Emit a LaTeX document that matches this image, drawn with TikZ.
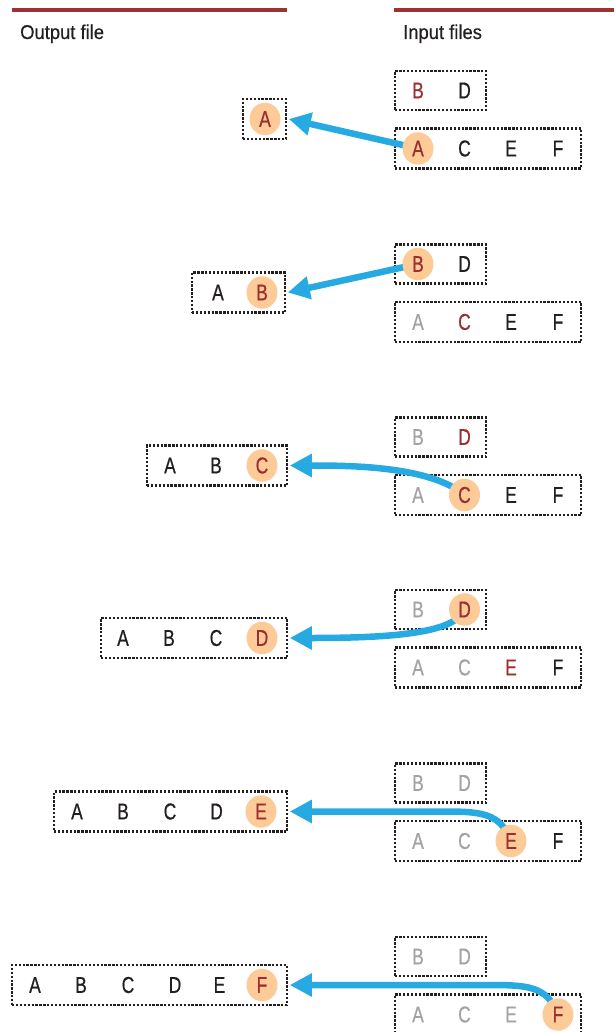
\documentclass[tikz,border=0pt]{standalone}
\usepackage{fontspec}
\setmainfont{Liberation Sans}
\newfontfamily\hdrfont{Liberation Sans}[FakeStretch=0.92, FakeBold=0.4]
\newfontfamily\boxfont{Liberation Sans}[FakeStretch=0.76, FakeBold=0.6]
\usetikzlibrary{arrows.meta,shapes.geometric}
\pgfdeclarelayer{back}
\pgfdeclarelayer{mid}
\pgfsetlayers{back,mid,main}
\definecolor{hdr}{HTML}{9B3335}
\definecolor{redt}{HTML}{9A2E32}
\definecolor{peach}{HTML}{FDCB97}
\definecolor{grayt}{HTML}{A3A3A3}
\definecolor{blk}{HTML}{231F20}
\definecolor{arrblue}{HTML}{27AAE1}
\begin{document}
\begin{tikzpicture}[x=1pt,y=-1pt,
  dbox/.style={draw=blk, line width=2.5pt, dash pattern=on 2.3pt off 1.6pt, inner sep=0pt, minimum height=40pt},
  lt/.style={inner sep=0pt, font=\boxfont\fontsize{23}{23}\selectfont, text=blk},
  gl/.style={lt, text=grayt},
  rl/.style={lt, text=redt},
  sel/.style={lt, text=redt, ellipse, fill=peach, minimum width=31pt, minimum height=32.5pt},
  flow/.style={draw=arrblue, line width=6.5pt, -{Triangle[length=22pt,width=22pt]}},
  hdrtext/.style={anchor=base west, inner sep=0pt, font=\hdrfont\fontsize{20}{20}\selectfont, text=blk},
  hdrline/.style={draw=hdr, line width=4pt}
]
\useasboundingbox (0,0) rectangle (614,1032);

% headers
\draw[hdrline] (12,10) -- (287,10);
\draw[hdrline] (394,10) -- (614,10);
\node[hdrtext] (hout) at (20,39) {Output file};
\node[hdrtext] (hin) at (403,39) {Input files};

% ---------- boxes ----------
\begin{pgfonlayer}{back}
% panel 1
\node[dbox, minimum width=91pt, minimum height=39pt] (b11) at (440.5,90.5) {};
\node[dbox, minimum width=186pt] (b12) at (488,148.5) {};
\node[dbox, minimum width=43pt] (o1) at (264.5,119) {};
% panel 2
\node[dbox, minimum width=91pt, minimum height=39pt] (b21) at (440.5,264) {};
\node[dbox, minimum width=186pt] (b22) at (488,322) {};
\node[dbox, minimum width=93pt] (o2) at (238.5,292.5) {};
% panel 3
\node[dbox, minimum width=91pt, minimum height=39pt] (b31) at (440.5,437) {};
\node[dbox, minimum width=186pt] (b32) at (488,495) {};
\node[dbox, minimum width=140pt] (o3) at (217,465.5) {};
% panel 4
\node[dbox, minimum width=91pt, minimum height=39pt] (b41) at (440.5,609.5) {};
\node[dbox, minimum width=186pt] (b42) at (488,667.5) {};
\node[dbox, minimum width=186pt] (o4) at (194,638) {};
% panel 5
\node[dbox, minimum width=91pt, minimum height=39pt] (b51) at (440.5,783) {};
\node[dbox, minimum width=186pt] (b52) at (488,841) {};
\node[dbox, minimum width=233pt] (o5) at (170.5,811.5) {};
% panel 6
\node[dbox, minimum width=91pt, minimum height=39pt] (b61) at (440.5,956.5) {};
\node[dbox, minimum width=186pt] (b62) at (488,1014.5) {};
\node[dbox, minimum width=275pt] (o6) at (149.5,985) {};
\end{pgfonlayer}

% ---------- letters ----------
% panel 1
\node[rl] (p1B) at (418,90.5) {B};
\node[lt] (p1D) at (464.5,90.5) {D};
\node[sel] (s1) at (418,148.5) {A};
\node[lt] (p1C) at (464.5,148.5) {C};
\node[lt] (p1E) at (511,148.5) {E};
\node[lt] (p1F) at (558,148.5) {F};
\node[sel] (t1A) at (265,119) {A};
% panel 2
\node[sel] (s2) at (418,264) {B};
\node[lt] (p2D) at (464.5,264) {D};
\node[gl] (p2A) at (418,322) {A};
\node[rl] (p2C) at (464.5,322) {C};
\node[lt] (p2E) at (511,322) {E};
\node[lt] (p2F) at (558,322) {F};
\node[lt] (t2A) at (218,292.5) {A};
\node[sel] (t2B) at (262,292.5) {B};
% panel 3
\node[gl] (p3B) at (418,437) {B};
\node[rl] (p3D) at (464.5,437) {D};
\node[gl] (p3A) at (418,495) {A};
\node[sel] (s3) at (464.5,495) {C};
\node[lt] (p3E) at (511,495) {E};
\node[lt] (p3F) at (558,495) {F};
\node[lt] (t3A) at (170,465.5) {A};
\node[lt] (t3B) at (216,465.5) {B};
\node[sel] (t3C) at (262,465.5) {C};
% panel 4
\node[gl] (p4B) at (418,609.5) {B};
\node[sel] (s4) at (464.5,609.5) {D};
\node[gl] (p4A) at (418,667.5) {A};
\node[gl] (p4C) at (464.5,667.5) {C};
\node[rl] (p4E) at (511,667.5) {E};
\node[lt] (p4F) at (558,667.5) {F};
\node[lt] (t4A) at (123,638) {A};
\node[lt] (t4B) at (169,638) {B};
\node[lt] (t4C) at (216,638) {C};
\node[sel] (t4D) at (262,638) {D};
% panel 5
\node[gl] (p5B) at (418,783) {B};
\node[gl] (p5D) at (464.5,783) {D};
\node[gl] (p5A) at (418,841) {A};
\node[gl] (p5C) at (464.5,841) {C};
\node[sel] (s5) at (511,841) {E};
\node[lt] (p5F) at (558,841) {F};
\node[lt] (t5A) at (77,811.5) {A};
\node[lt] (t5B) at (123,811.5) {B};
\node[lt] (t5C) at (170,811.5) {C};
\node[lt] (t5D) at (216.5,811.5) {D};
\node[sel] (t5E) at (261,811.5) {E};
% panel 6
\node[gl] (p6B) at (418,956.5) {B};
\node[gl] (p6D) at (464.5,956.5) {D};
\node[gl] (p6A) at (418,1014.5) {A};
\node[gl] (p6C) at (464.5,1014.5) {C};
\node[gl] (p6E) at (511,1014.5) {E};
\node[sel] (s6) at (558,1014.5) {F};
\node[lt] (t6A) at (35,985) {A};
\node[lt] (t6B) at (81,985) {B};
\node[lt] (t6C) at (128,985) {C};
\node[lt] (t6D) at (175,985) {D};
\node[lt] (t6E) at (219.5,985) {E};
\node[sel] (t6F) at (262,985) {F};

% ---------- arrows ----------
\coordinate (k5) at (440,811.5);
\coordinate (k6) at (487,985);
\begin{pgfonlayer}{mid}
\draw[flow] (s1.center) -- ([xshift=1.5pt]o1.east);
\draw[flow] (s2.center) -- ([xshift=1.5pt]o2.east);
\draw[flow] (s3.center) .. controls (430,466) and (350,465.5) .. ([xshift=1.5pt]o3.east);
\draw[flow] (s4.center) .. controls (455,632) and (400,638) .. ([xshift=1.5pt]o4.east);
\draw[flow] (s5.center) .. controls (500,812) and (480,811.5) .. (k5) -- ([xshift=1.5pt]o5.east);
\draw[flow] (s6.center) .. controls (547,985.5) and (527,985) .. (k6) -- ([xshift=1.5pt]o6.east);
\end{pgfonlayer}
\end{tikzpicture}
\end{document}
